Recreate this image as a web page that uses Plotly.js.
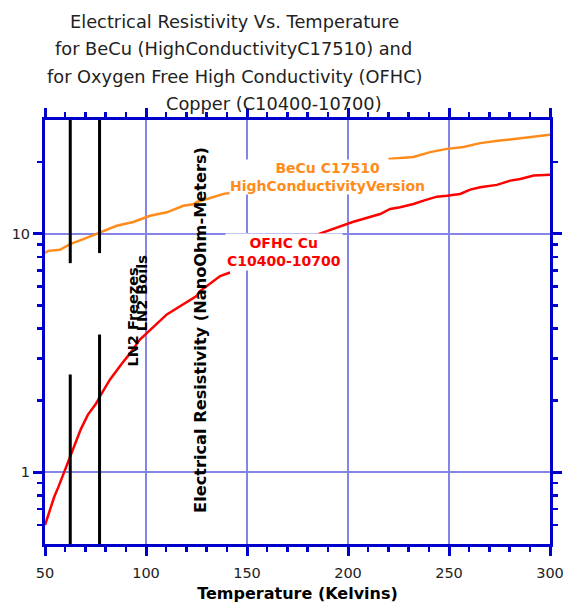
<!DOCTYPE html>
<html>
<head>
<meta charset="utf-8">
<script src="https://cdn.plot.ly/plotly-3.0.1.min.js"></script>
<style>html,body{margin:0;padding:0;background:#fff;}</style>
</head>
<body>
<div id="chart" style="width:574px;height:607px;"></div>
<script>
// ---- Data ----
// BeCu C17510 (High Conductivity version), Temperature (K) vs resistivity (nOhm-m)
var becuT   = [50, 51.6, 57.4, 62.4, 69, 77.2, 85.5, 93.7, 102, 110.3, 118.5, 123.5, 125.2, 138.5, 146, null, 220, 227.5, 232.4, 240.7, 249, 257.2, 265.4, 275.3, 286.9, 300];
var becuRho = [8.3, 8.48, 8.57, 9.05, 9.5, 10.1, 10.8, 11.2, 11.9, 12.3, 13.1, 13.3, 13.6, 14.7, 15.0, null, 20.6, 20.8, 21.0, 22.0, 22.7, 23.1, 24.0, 24.6, 25.2, 26.0];

// OFHC Cu C10400-10700
var ofhcT   = [50, 52.2, 54.5, 56.7, 60.8, 62.7, 65, 67.8, 71.2, 75.3, 77.2, 82.2, 88, 91.3, 97, 98.7, 104.5, 110.3, 118.2, 125, 126.8, 136.7, 141.6, null,
               185.3, 202.3, 215.9, 220.9, 225.8, 232.4, 237.4, 239.8, 244.0, 249.0, 255.5, 260.5, 265.4, 273.7, 280.3, 285.3, 291.9, 300];
var ofhcRho = [0.60, 0.69, 0.785, 0.87, 1.07, 1.17, 1.30, 1.52, 1.74, 1.94, 2.08, 2.45, 2.85, 3.09, 3.6, 3.72, 4.13, 4.59, 5.06, 5.48, 5.75, 6.65, 6.88, null,
               9.97, 11.2, 12.10, 12.71, 12.92, 13.34, 13.77, 14.0, 14.31, 14.45, 14.69, 15.31, 15.67, 16.03, 16.71, 16.98, 17.54, 17.7];

// LN2 reference lines (K) and their visible segments (nOhm-m)
var ln2FreezeT = 62.5;
var ln2FreezeSeg = [30, 7.53, null, 2.57, 0.5];
var ln2BoilT = 77;
var ln2BoilSeg = [30, 8.3, null, 3.78, 0.5];

// Axis ticks
var xTicks = [50, 100, 150, 200, 250, 300];
var yTicks = [1, 10];
var yTickText = ['1', '10'];
var yMinor = [0.6, 0.7, 0.8, 0.9, 2, 3, 4, 5, 6, 7, 8, 9, 20];
var xRange = [50, 300];
var yRange = [0.5, 30];

// Text
var titleLines = ['Electrical Resistivity Vs. Temperature',
                  'for BeCu (HighConductivityC17510) and',
                  'for Oxygen Free High Conductivity (OFHC)',
                  'Copper (C10400-10700)'];
var yTitle = 'Electrical Resistivity (NanoOhm-Meters)';
var xTitle = 'Temperature (Kelvins)';

// ---- Styles ----
var AXC = '#0000cc';
var GRIDC = '#8585e8';
var ORANGE = '#ff8c1a';
var RED = '#ff0000';

function segX(xv, seg) { return seg.map(function (s) { return s === null ? null : xv; }); }

var traces = [
  { x: becuT, y: becuRho, type: 'scatter', mode: 'lines', line: { color: ORANGE, width: 2.5 }, connectgaps: false, showlegend: false },
  { x: ofhcT, y: ofhcRho, type: 'scatter', mode: 'lines', line: { color: RED, width: 2.5 }, connectgaps: false, showlegend: false },
  { x: segX(ln2FreezeT, ln2FreezeSeg), y: ln2FreezeSeg, type: 'scatter', mode: 'lines', line: { color: '#000', width: 3 }, connectgaps: false, showlegend: false },
  { x: segX(ln2BoilT, ln2BoilSeg), y: ln2BoilSeg, type: 'scatter', mode: 'lines', line: { color: '#000', width: 3 }, connectgaps: false, showlegend: false }
];

var tickFont = { family: 'DejaVu Sans', size: 14.5, color: '#222' };
var titleFont = { family: 'DejaVu Sans', size: 17.8, color: '#222' };
var boldFont = function (size, color) { return { family: 'DejaVu Sans', size: size, color: color, weight: 'bold' }; };

var titleX = [0.376, 0.374, 0.376, 0.4535];
var titleY = [1.2318, 1.168, 1.103, 1.039];
var annotations = titleLines.map(function (t, i) {
  return { text: t, xref: 'paper', yref: 'paper', x: titleX[i], y: titleY[i], xanchor: 'center', yanchor: 'middle', showarrow: false, font: titleFont };
});

annotations.push({ text: yTitle, xref: 'paper', yref: 'paper', x: 0.309, y: 0.505, textangle: -90, showarrow: false, xanchor: 'center', yanchor: 'middle', font: boldFont(16.2, '#000') });
annotations.push({ text: 'LN2 Freezes', xref: 'x', yref: 'y', x: 93.8, y: 0.4348, textangle: -90, showarrow: false, xanchor: 'center', yanchor: 'bottom', font: boldFont(14.5, '#000') });
annotations.push({ text: 'LN2 Boils', xref: 'x', yref: 'y', x: 98.4, y: 0.582, textangle: -90, showarrow: false, xanchor: 'center', yanchor: 'bottom', font: boldFont(14.5, '#000') });
annotations.push({ text: 'BeCu C17510<br>HighConductivityVersion', xref: 'x', yref: 'y', x: 189.9, y: 1.2386, showarrow: false, xanchor: 'center', yanchor: 'middle', align: 'center', bgcolor: '#ffffff', borderpad: 0, font: boldFont(14, ORANGE) });
annotations.push({ text: 'OFHC Cu<br>C10400-10700', xref: 'x', yref: 'y', x: 168.4, y: 0.923, showarrow: false, xanchor: 'center', yanchor: 'middle', align: 'center', bgcolor: '#ffffff', borderpad: 1, font: boldFont(14, RED) });

var layout = {
  width: 574, height: 607,
  margin: { l: 45, r: 24, t: 120, b: 63 },
  paper_bgcolor: '#ffffff', plot_bgcolor: '#ffffff',
  showlegend: false,
  xaxis: {
    range: xRange, tickmode: 'array', tickvals: xTicks,
    ticks: 'outside', ticklen: 9, tickwidth: 3, tickcolor: AXC,
    showline: true, linecolor: AXC, linewidth: 3, mirror: 'ticks',
    showgrid: true, gridcolor: GRIDC, gridwidth: 2, zeroline: false,
    minor: { dtick: 10, ticks: 'outside', ticklen: 5, tickwidth: 2.5, tickcolor: AXC, showgrid: false },
    tickfont: tickFont, ticklabelstandoff: 5,
    title: { text: xTitle, font: boldFont(16, '#000'), standoff: 8 }
  },
  xaxis2: {
    overlaying: 'x', anchor: 'y', side: 'bottom', matches: 'x',
    range: xRange, tickmode: 'array', tickvals: xTicks,
    ticks: 'inside', ticklen: 9, tickwidth: 3, tickcolor: AXC,
    showline: true, linecolor: AXC, linewidth: 3, mirror: 'ticks',
    showgrid: false, zeroline: false, showticklabels: false,
    minor: { dtick: 10, ticks: 'inside', ticklen: 5, tickwidth: 2.5, tickcolor: AXC, showgrid: false }
  },
  yaxis: {
    type: 'log', range: [Math.log10(yRange[0]), Math.log10(yRange[1])],
    tickmode: 'array', tickvals: yTicks, ticktext: yTickText,
    ticks: 'outside', ticklen: 9, tickwidth: 3, tickcolor: AXC,
    showline: true, linecolor: AXC, linewidth: 3, mirror: 'ticks',
    showgrid: true, gridcolor: GRIDC, gridwidth: 2, zeroline: false,
    minor: { tickmode: 'array', tickvals: yMinor, ticks: 'outside', ticklen: 5, tickwidth: 2.5, tickcolor: AXC, showgrid: false },
    tickfont: tickFont
  },
  yaxis2: {
    type: 'log', overlaying: 'y', anchor: 'x', side: 'left', matches: 'y',
    range: [Math.log10(yRange[0]), Math.log10(yRange[1])],
    tickmode: 'array', tickvals: yTicks,
    ticks: 'inside', ticklen: 9, tickwidth: 3, tickcolor: AXC,
    showline: true, linecolor: AXC, linewidth: 3, mirror: 'ticks',
    showgrid: false, zeroline: false, showticklabels: false,
    minor: { tickmode: 'array', tickvals: yMinor, ticks: 'inside', ticklen: 5, tickwidth: 2.5, tickcolor: AXC, showgrid: false }
  },
  annotations: annotations
};

Plotly.newPlot('chart', traces, layout, { displayModeBar: false, staticPlot: true });
</script>
</body>
</html>
